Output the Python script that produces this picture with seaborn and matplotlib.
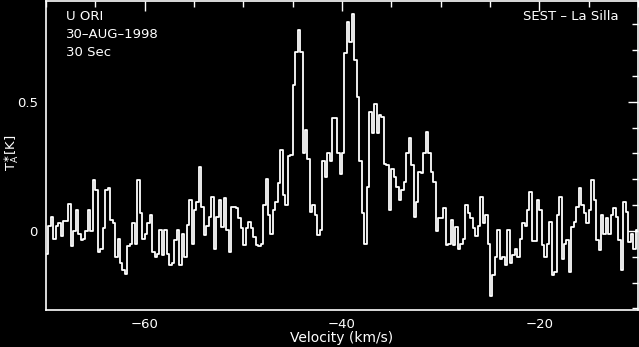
import numpy as np
import pandas as pd
import matplotlib
matplotlib.use("Agg")
import matplotlib.pyplot as plt
import seaborn as sns
from matplotlib.ticker import MultipleLocator

# ---- data (antenna temperature per channel) ----
v_start = -70.0      # km/s, left edge of first channel
chan_width = 0.25    # km/s

ta_seg1 = [-0.09, 0.02, 0.055, -0.03, 0.02, 0.03, -0.02, 0.04, 0.04, 0.105,
           -0.06, 0.0, 0.08, -0.01, -0.035, -0.03, 0.0, 0.08, 0.0, 0.197,
           0.158, -0.08, -0.07, 0.01, 0.158, 0.165, 0.042, 0.03, -0.1, -0.03,
           -0.126, -0.15, -0.165, -0.06, -0.05, 0.03, -0.05, 0.197, 0.068, -0.03,
           -0.01, 0.03, 0.06, -0.08, -0.1, -0.088, 0.003, -0.094, 0.003, -0.088,
           -0.13, -0.126, -0.036, 0.003, -0.13, -0.01, -0.1, 0.022, 0.12, -0.05,
           0.08, 0.113]
ta_seg2 = [0.249, 0.094, -0.016, 0.02, 0.055, 0.132, -0.068, 0.055, 0.119, 0.016,
           0.126, 0.003, -0.08, 0.094, 0.094, 0.087, 0.049, 0.01, -0.055, 0.01,
           0.035, 0.01, -0.023, -0.055, -0.06, -0.05, 0.1, 0.2, 0.06, -0.01,
           0.08, 0.113, 0.184, 0.313, 0.14, 0.1, 0.29, 0.294, 0.565, 0.694,
           0.778, 0.694, 0.30, 0.39, 0.28, 0.073, 0.1, 0.06, -0.016]
ta_seg3 = [0.003, 0.27, 0.21, 0.3, 0.27, 0.436, 0.436, 0.3, 0.22, 0.3,
           0.69, 0.81, 0.733, 0.84, 0.66, 0.52, 0.27, 0.07, -0.05, 0.17,
           0.46, 0.38, 0.49, 0.38, 0.45, 0.44, 0.26, 0.255, 0.08, 0.24,
           0.21, 0.17, 0.12, 0.158, 0.19, 0.3, 0.358, 0.255, 0.055, 0.113,
           0.23, 0.223, 0.3, 0.384, 0.3, 0.229, 0.19, 0.0, 0.049, 0.05,
           0.087, -0.055, -0.049, 0.042, -0.055, 0.016, -0.068, -0.05, -0.03, 0.1,
           0.068, 0.05, 0.01, -0.02, 0.02]
ta_seg4 = [0.132, 0.03, 0.06, -0.05, -0.25, -0.17, -0.1, 0.003, -0.11, -0.1,
           -0.13, 0.003, -0.126, -0.094, -0.068, -0.1, -0.03, 0.03, 0.02, 0.08,
           0.15, -0.04, -0.04, 0.12, 0.08, -0.055, -0.1, -0.05, 0.035, -0.17,
           -0.16, 0.06, 0.13, -0.107, -0.049, -0.036, -0.16, 0.016, 0.035, 0.094,
           0.165, 0.1, 0.068, 0.029, 0.08, 0.197, 0.12, -0.036, -0.074, 0.06,
           -0.01, 0.049, -0.01, 0.06, 0.087, 0.055, -0.036, -0.15, 0.113, 0.075,
           -0.042, -0.01, -0.068, 0.003]

x_ticks = [-60, -40, -20]
x_tick_labels = ["\u221260", "\u221240", "\u221220"]
y_ticks = [0, 0.5]
y_tick_labels = ["0", "0.5"]

info_left = ["U ORI", "30\u2013AUG\u20131998", "30 Sec"]
info_right = "SEST \u2013 La Silla"
x_label = "Velocity (km/s)"
y_label = r"$\mathregular{T_A^{\ast}[K]}$"

ta = np.array(ta_seg1 + ta_seg2 + ta_seg3 + ta_seg4)
velocity = v_start + chan_width * (np.arange(len(ta)) + 0.5)
df = pd.DataFrame({"velocity": velocity, "ta": ta})

# ---- figure ----
sns.set_theme(style="dark")
plt.rcParams["font.family"] = ["DejaVu Sans"]
fig = plt.figure(figsize=(6.39, 3.47), dpi=100, facecolor="black")
ax = fig.add_axes([46 / 639, (347 - 310) / 347, 592 / 639, 309 / 347])
ax.set_facecolor("black")

sns.lineplot(data=df, x="velocity", y="ta", ax=ax, color="#ffffff",
             linewidth=1.3, drawstyle="steps-mid", estimator=None)

ax.set_xlim(-70, -10)
ax.set_ylim(-0.306, 0.89)
ax.grid(False)
for s in ax.spines.values():
    s.set_color("white")
    s.set_linewidth(1.2)

ax.set_xticks(x_ticks)
ax.set_xticklabels(x_tick_labels)
ax.set_yticks(y_ticks)
ax.set_yticklabels(y_tick_labels)
ax.xaxis.set_minor_locator(MultipleLocator(5))
ax.yaxis.set_minor_locator(MultipleLocator(0.1))
ax.tick_params(which="both", direction="in", top=True, right=True,
               color="white", labelcolor="white", labelsize=9.5)
ax.tick_params(which="major", length=7, width=1)
ax.tick_params(which="minor", length=4, width=1)
ax.tick_params(axis="x", pad=6)
ax.tick_params(axis="y", pad=6)

ax.set_xlabel(x_label, color="white", fontsize=10, labelpad=0)
ax.set_ylabel(y_label, color="white", fontsize=9.5)
ax.yaxis.set_label_coords(-0.043, 0.51)

for k, line in enumerate(info_left):
    ax.text(66 / 639, 1 - (17 + 17.5 * k) / 347, line, transform=fig.transFigure,
            color="white", fontsize=9.5, va="center", ha="left")
ax.text(619 / 639, 1 - 17 / 347, info_right, transform=fig.transFigure,
        color="white", fontsize=9.5, va="center", ha="right")

fig.savefig("out.png", dpi=100, facecolor="black")
